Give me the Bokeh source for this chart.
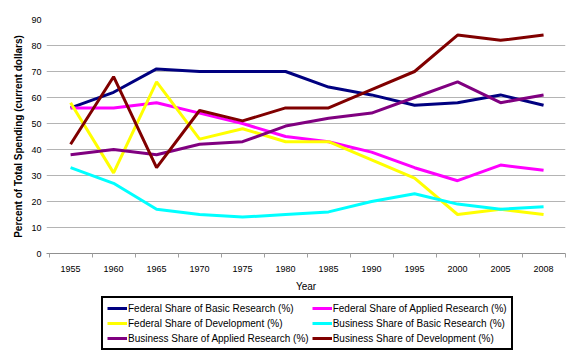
from bokeh.plotting import figure
from bokeh.models import FixedTicker, Legend, LegendItem, Range1d
from bokeh.layouts import column
from bokeh.embed import file_html
from bokeh.resources import INLINE

years = ["1955", "1960", "1965", "1970", "1975", "1980", "1985", "1990", "1995", "2000", "2005", "2008"]
federal_basic = [56, 62, 71, 70, 70, 70, 64, 61, 57, 58, 61, 57]
federal_applied = [56, 56, 58, 54, 50, 45, 43, 39, 33, 28, 34, 32]
federal_development = [58, 31, 66, 44, 48, 43, 43, 36, 29, 15, 17, 15]
business_basic = [33, 27, 17, 15, 14, 15, 16, 20, 23, 19, 17, 18]
business_applied = [38, 40, 38, 42, 43, 49, 52, 54, 60, 66, 58, 61]
business_development = [42, 68, 33, 55, 51, 56, 56, 63, 70, 84, 82, 84]
y_ticks = [0, 10, 20, 30, 40, 50, 60, 70, 80, 90]

series = [
    ("Federal Share of Basic Research (%)", federal_basic, "#000080"),
    ("Federal Share of Applied Research (%)", federal_applied, "#FF00FF"),
    ("Federal Share of Development (%)", federal_development, "#FFFF00"),
    ("Business Share of Basic Research (%)", business_basic, "#00FFFF"),
    ("Business Share of Applied Research (%)", business_applied, "#800080"),
    ("Business Share of Development (%)", business_development, "#800000"),
]

FONT = "Liberation Sans"
xs = list(range(len(years)))

p = figure(width=577, height=296, output_backend="svg", toolbar_location=None,
           x_range=Range1d(-0.56, 11.51), y_range=Range1d(0, 90),
           min_border_left=46, min_border_right=12, min_border_top=19, min_border_bottom=43)
p.outline_line_color = None
p.background_fill_color = "white"
p.border_fill_color = "white"

for name, vals, color in series:
    p.line(xs, vals, line_color=color, line_width=3)

# x axis
p.xaxis.ticker = FixedTicker(ticks=xs, minor_ticks=[i - 0.5 for i in range(len(years) + 1)])
p.xaxis.major_label_overrides = {i: y for i, y in enumerate(years)}
p.xaxis.major_tick_out = 0
p.xaxis.major_tick_in = 0
p.xaxis.minor_tick_out = 4
p.xaxis.minor_tick_in = 0
p.xaxis.minor_tick_line_color = "#a0a0a0"
p.xaxis.axis_line_color = "#909090"
p.xaxis.major_label_text_font = FONT
p.xaxis.major_label_text_font_size = "9px"
p.xaxis.major_label_text_color = "#000000"
p.xaxis.major_label_standoff = 8
p.xaxis.axis_label = "Year"
p.xaxis.axis_label_text_font = FONT
p.xaxis.axis_label_text_font_style = "normal"
p.xaxis.axis_label_text_font_size = "10px"
p.xaxis.axis_label_text_color = "#000000"
p.xaxis.axis_label_standoff = 6
p.xgrid.grid_line_color = None

# y axis
p.yaxis.ticker = FixedTicker(ticks=y_ticks)
p.yaxis.axis_line_color = None
p.yaxis.major_tick_out = 0
p.yaxis.major_tick_in = 0
p.yaxis.minor_tick_out = 0
p.yaxis.minor_tick_in = 0
p.yaxis.major_label_text_font = FONT
p.yaxis.major_label_text_font_size = "9px"
p.yaxis.major_label_text_color = "#000000"
p.yaxis.major_label_standoff = 5
p.yaxis.axis_label = "Percent of Total Spending (current dollars)"
p.yaxis.axis_label_text_font = FONT
p.yaxis.axis_label_text_font_style = "bold"
p.yaxis.axis_label_text_font_size = "10px"
p.yaxis.axis_label_text_color = "#000000"
p.yaxis.axis_label_standoff = 4
p.ygrid.grid_line_color = "#b4b4b4"
p.ygrid.grid_line_width = 1

# legend strip below the chart
lg = figure(width=577, height=60, output_backend="svg", toolbar_location=None,
            x_range=Range1d(0, 1), y_range=Range1d(0, 1),
            x_axis_type=None, y_axis_type=None,
            min_border_left=0, min_border_right=0, min_border_top=0, min_border_bottom=0)
lg.outline_line_color = None
lg.xgrid.grid_line_color = None
lg.ygrid.grid_line_color = None
lg.border_fill_color = "white"
items = []
for name, vals, color in series:
    r = lg.line([0, 1], [5, 5], line_color=color, line_width=3)
    items.append(LegendItem(label=name, renderers=[r]))

legend = Legend(items=items, location=(55, 6), orientation="horizontal", ncols=2,
                border_line_color="black", border_line_width=2, border_line_alpha=1.0,
                background_fill_color="white", background_fill_alpha=1.0,
                label_text_font=FONT, label_text_font_size="10px", label_text_color="#000000",
                glyph_width=20, glyph_height=12, label_height=12, label_standoff=1,
                spacing=3, padding=4, margin=0)
lg.add_layout(legend, "center")

layout = column(p, lg, spacing=0)
open("out.html", "w").write(file_html(layout, INLINE))
